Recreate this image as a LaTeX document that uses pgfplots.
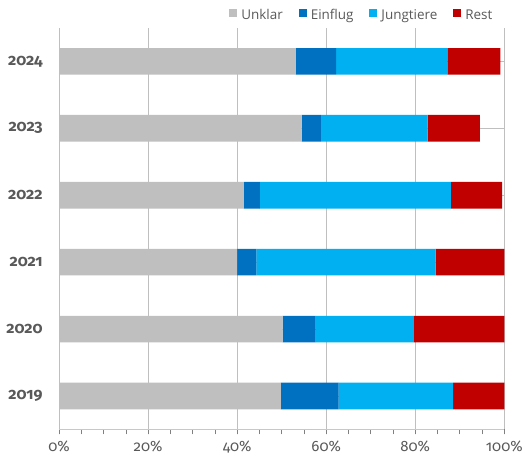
\documentclass[border=0pt]{standalone}
\usepackage{pgfplots}
\pgfplotsset{compat=1.18}
\usepackage{fontspec}
\setmainfont{Fira Sans}[Numbers=OldStyle]
\newfontfamily\legendfont{Open Sans}

\definecolor{cUnklar}{HTML}{BFBFBF}
\definecolor{cEinflug}{HTML}{0070C0}
\definecolor{cJung}{HTML}{00B0F0}
\definecolor{cRest}{HTML}{C00000}
\definecolor{txt}{HTML}{595959}
\definecolor{grid}{HTML}{C8C8C8}

\begin{document}
\begin{tikzpicture}
\begin{axis}[
  scale only axis,
  width=446.4pt, height=402.7pt,
  xbar stacked,
  bar width=26.7pt,
  xmin=0, xmax=100,
  ymin=-0.5, ymax=5.5,
  ytick={0,1,2,3,4,5},
  yticklabels={2019,2020,2021,2022,2023,2024},
  yticklabel style={font=\bfseries\fontsize{16}{18}\selectfont, text=txt, xshift=-8pt},
  ytick style={draw=none},
  xtick={0,20,...,100},
  minor xtick={0,5,...,100},
  xticklabel={\pgfmathprintnumber{\tick}\%},
  /pgf/number format/assume math mode=true,
  xticklabel style={font=\fontsize{15}{17}\selectfont, text=txt, yshift=-3pt},
  tick align=outside,
  major tick length=5pt, minor tick length=5pt,
  tick style={grid, line width=0.8pt},
  xmajorgrids,
  major grid style={grid, line width=0.9pt},
  axis x line*=bottom,
  axis y line*=left,
  x axis line style={grid, line width=0.9pt, -},
  y axis line style={draw=none},
  legend columns=4,
  legend style={draw=none, fill=none, at={(rel axis cs:0.985,1)}, anchor=south east,
    yshift=1pt, font=\legendfont\fontsize{13.5}{15}\selectfont, text=txt,
    nodes={text height=9.5pt, text depth=3pt},
    /tikz/every odd column/.append style={column sep=2pt},
    /tikz/every even column/.append style={column sep=14pt}},
  legend image code/.code={\fill[#1] (0pt,-0.3pt) rectangle (8pt,7.7pt);},
  legend cell align=left,
]
\coordinate (o) at (rel axis cs:0,0);
\addplot[fill=cUnklar, draw=none] coordinates {(49.8,0) (50.2,1) (40.0,2) (41.5,3) (54.5,4) (53.2,5)};
\addplot[fill=cEinflug, draw=none] coordinates {(13.0,0) (7.4,1) (4.3,2) (3.6,3) (4.3,4) (9.0,5)};
\addplot[fill=cJung, draw=none] coordinates {(25.7,0) (22.1,1) (40.3,2) (42.9,3) (24.0,4) (25.0,5)};
\addplot[fill=cRest, draw=none] coordinates {(11.5,0) (20.3,1) (15.4,2) (11.5,3) (11.7,4) (11.9,5)};
\legend{Unklar, Einflug, Jungtiere, Rest}
\end{axis}
\path (o) ++(-59.3pt,-31.3pt) rectangle ++(526pt,462pt);
\end{tikzpicture}
\end{document}
